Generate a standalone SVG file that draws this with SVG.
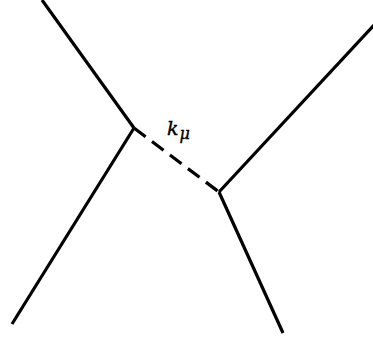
<svg xmlns="http://www.w3.org/2000/svg" width="373" height="340" viewBox="0 0 373 340">
<style>
.l{stroke:#000;stroke-width:3.2;fill:none;stroke-linecap:butt}
.d{stroke-dasharray:14.5 8}
.t{font-family:"DejaVu Serif","Liberation Serif",serif;font-style:italic;fill:#000;stroke:#000;stroke-width:0.4}
</style>
<rect width="373" height="340" fill="#fff"/>
<g id="connectors">
<line class="l" x1="42" y1="0" x2="134" y2="128"/>
<line class="l" x1="134" y1="128" x2="12" y2="324"/>
<line class="l d" x1="134" y1="128" x2="219" y2="192"/>
<line class="l" x1="219" y1="192" x2="374" y2="25"/>
<line class="l" x1="219" y1="192" x2="283" y2="333"/>
</g>
<g id="label">
<text class="t" x="167" y="135" font-size="19">k<tspan font-size="16" dx="1" dy="4">μ</tspan></text>
</g>
</svg>
